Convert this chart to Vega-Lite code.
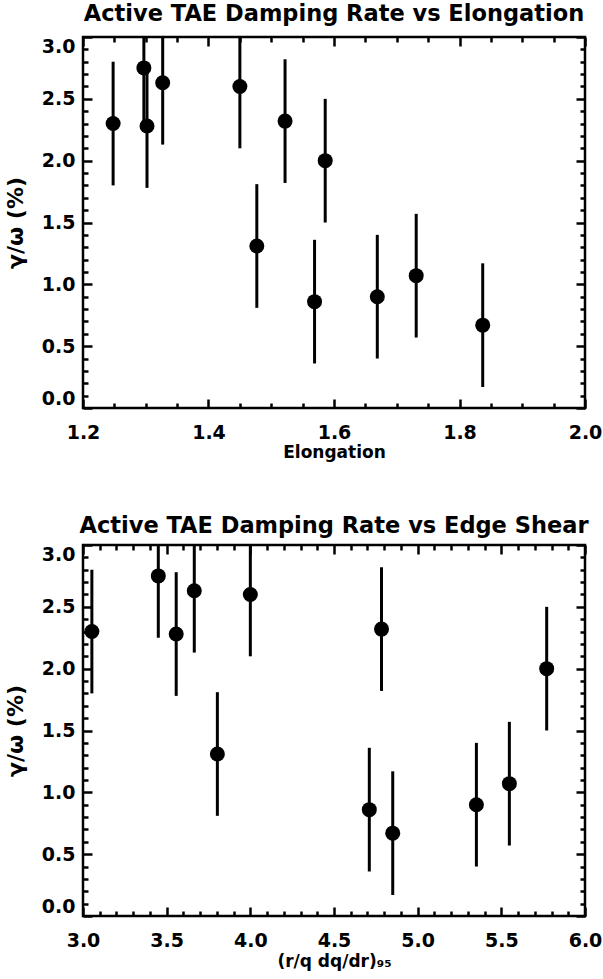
{
  "$schema": "https://vega.github.io/schema/vega-lite/v6.json",
  "background": "white",
  "padding": {"left": 3, "top": 2, "right": 0, "bottom": 0},
  "config": {
    "view": {"stroke": "black", "strokeWidth": 2.5},
    "font": "DejaVu Sans",
    "axis": {
      "domain": false,
      "grid": false,
      "labelFont": "DejaVu Sans",
      "labelFontWeight": "bold",
      "labelFontSize": 19,
      "labelColor": "black",
      "titleFont": "DejaVu Sans",
      "titleFontWeight": "bold",
      "titleColor": "black",
      "tickColor": "black",
      "tickWidth": 2.5
    },
    "title": {"font": "DejaVu Sans", "fontWeight": "bold", "fontSize": 22.5, "color": "black", "baseline": "alphabetic"}
  },
  "datasets": {
    "elong": [
      {"x": 1.248, "y": 2.30, "lo": 1.80, "hi": 2.80},
      {"x": 1.297, "y": 2.75, "lo": 2.25, "hi": 3.25},
      {"x": 1.302, "y": 2.28, "lo": 1.78, "hi": 2.78},
      {"x": 1.327, "y": 2.63, "lo": 2.13, "hi": 3.13},
      {"x": 1.450, "y": 2.60, "lo": 2.10, "hi": 3.10},
      {"x": 1.477, "y": 1.31, "lo": 0.81, "hi": 1.81},
      {"x": 1.522, "y": 2.32, "lo": 1.82, "hi": 2.82},
      {"x": 1.586, "y": 2.00, "lo": 1.50, "hi": 2.50},
      {"x": 1.569, "y": 0.86, "lo": 0.36, "hi": 1.36},
      {"x": 1.669, "y": 0.90, "lo": 0.40, "hi": 1.40},
      {"x": 1.731, "y": 1.07, "lo": 0.57, "hi": 1.57},
      {"x": 1.837, "y": 0.67, "lo": 0.17, "hi": 1.17}
    ],
    "shear": [
      {"x": 3.053, "y": 2.30, "lo": 1.80, "hi": 2.80},
      {"x": 3.450, "y": 2.75, "lo": 2.25, "hi": 3.25},
      {"x": 3.557, "y": 2.28, "lo": 1.78, "hi": 2.78},
      {"x": 3.665, "y": 2.63, "lo": 2.13, "hi": 3.13},
      {"x": 3.803, "y": 1.31, "lo": 0.81, "hi": 1.81},
      {"x": 4.000, "y": 2.60, "lo": 2.10, "hi": 3.10},
      {"x": 4.711, "y": 0.86, "lo": 0.36, "hi": 1.36},
      {"x": 4.784, "y": 2.32, "lo": 1.82, "hi": 2.82},
      {"x": 4.851, "y": 0.67, "lo": 0.17, "hi": 1.17},
      {"x": 5.351, "y": 0.90, "lo": 0.40, "hi": 1.40},
      {"x": 5.548, "y": 1.07, "lo": 0.57, "hi": 1.57},
      {"x": 5.771, "y": 2.00, "lo": 1.50, "hi": 2.50}
    ]
  },
  "spacing": 52,
  "vconcat": [
    {
      "width": 502,
      "height": 371,
      "title": {"text": "Active TAE Damping Rate vs Elongation", "offset": 10},
      "data": {"name": "elong"},
      "resolve": {"axis": {"x": "independent", "y": "independent"}},
      "layer": [
        {
          "mark": {"type": "rule", "color": "black", "strokeWidth": 3, "clip": true},
          "encoding": {
            "x": {"field": "x", "type": "quantitative",
              "scale": {"domain": [1.2, 2.0], "nice": false, "zero": false},
              "axis": {"orient": "bottom", "title": "Elongation", "titleFontSize": 17, "titlePadding": 2,
                "values": [1.2,1.25,1.3,1.35,1.4,1.45,1.5,1.55,1.6,1.65,1.7,1.75,1.8,1.85,1.9,1.95,2.0],
                "tickSize": {"condition": {"test": "abs(datum.value*5 - round(datum.value*5)) < 0.001", "value": -9}, "value": -5},
                "labelPadding": 24, "labelFlush": false,
                "labelExpr": "abs(datum.value*5 - round(datum.value*5)) < 0.001 ? format(datum.value, '.1f') : ''"}},
            "y": {"field": "lo", "type": "quantitative",
              "scale": {"domain": [0, 3], "nice": false, "zero": false},
              "axis": {"orient": "left", "title": "γ/ω (%)", "titleFontSize": 22, "titlePadding": 14,
                "values": [0,0.1,0.2,0.3,0.4,0.5,0.6,0.7,0.8,0.9,1.0,1.1,1.2,1.3,1.4,1.5,1.6,1.7,1.8,1.9,2.0,2.1,2.2,2.3,2.4,2.5,2.6,2.7,2.8,2.9,3.0],
                "tickSize": {"condition": {"test": "abs(datum.value*2 - round(datum.value*2)) < 0.001", "value": -9}, "value": -5},
                "labelPadding": 17, "labelFlush": true,
                "labelExpr": "abs(datum.value*2 - round(datum.value*2)) < 0.001 ? format(datum.value, '.1f') : ''"}},
            "y2": {"field": "hi"}
          }
        },
        {
          "mark": {"type": "point", "filled": true, "color": "black", "opacity": 1, "size": 225, "shape": "circle"},
          "encoding": {
            "x": {"field": "x", "type": "quantitative",
              "axis": {"orient": "top", "title": null, "labels": false,
                "values": [1.2,1.25,1.3,1.35,1.4,1.45,1.5,1.55,1.6,1.65,1.7,1.75,1.8,1.85,1.9,1.95,2.0],
                "tickSize": {"condition": {"test": "abs(datum.value*5 - round(datum.value*5)) < 0.001", "value": -9}, "value": -5}}},
            "y": {"field": "y", "type": "quantitative",
              "axis": {"orient": "right", "title": null, "labels": false,
                "values": [0,0.1,0.2,0.3,0.4,0.5,0.6,0.7,0.8,0.9,1.0,1.1,1.2,1.3,1.4,1.5,1.6,1.7,1.8,1.9,2.0,2.1,2.2,2.3,2.4,2.5,2.6,2.7,2.8,2.9,3.0],
                "tickSize": {"condition": {"test": "abs(datum.value*2 - round(datum.value*2)) < 0.001", "value": -9}, "value": -5}}}
          }
        }
      ]
    },
    {
      "width": 502,
      "height": 371,
      "title": {"text": "Active TAE Damping Rate vs Edge Shear", "offset": 6},
      "data": {"name": "shear"},
      "resolve": {"axis": {"x": "independent", "y": "independent"}},
      "layer": [
        {
          "mark": {"type": "rule", "color": "black", "strokeWidth": 3, "clip": true},
          "encoding": {
            "x": {"field": "x", "type": "quantitative",
              "scale": {"domain": [3, 6], "nice": false, "zero": false},
              "axis": {"orient": "bottom", "title": "(r/q dq/dr)₉₅", "titleFontSize": 17, "titlePadding": 3,
                "values": [3.0,3.1,3.2,3.3,3.4,3.5,3.6,3.7,3.8,3.9,4.0,4.1,4.2,4.3,4.4,4.5,4.6,4.7,4.8,4.9,5.0,5.1,5.2,5.3,5.4,5.5,5.6,5.7,5.8,5.9,6.0],
                "tickSize": {"condition": {"test": "abs(datum.value*2 - round(datum.value*2)) < 0.001", "value": -9}, "value": -5},
                "labelPadding": 24, "labelFlush": false,
                "labelExpr": "abs(datum.value*2 - round(datum.value*2)) < 0.001 ? format(datum.value, '.1f') : ''"}},
            "y": {"field": "lo", "type": "quantitative",
              "scale": {"domain": [0, 3], "nice": false, "zero": false},
              "axis": {"orient": "left", "title": "γ/ω (%)", "titleFontSize": 22, "titlePadding": 14,
                "values": [0,0.1,0.2,0.3,0.4,0.5,0.6,0.7,0.8,0.9,1.0,1.1,1.2,1.3,1.4,1.5,1.6,1.7,1.8,1.9,2.0,2.1,2.2,2.3,2.4,2.5,2.6,2.7,2.8,2.9,3.0],
                "tickSize": {"condition": {"test": "abs(datum.value*2 - round(datum.value*2)) < 0.001", "value": -9}, "value": -5},
                "labelPadding": 17, "labelFlush": true,
                "labelExpr": "abs(datum.value*2 - round(datum.value*2)) < 0.001 ? format(datum.value, '.1f') : ''"}},
            "y2": {"field": "hi"}
          }
        },
        {
          "mark": {"type": "point", "filled": true, "color": "black", "opacity": 1, "size": 225, "shape": "circle"},
          "encoding": {
            "x": {"field": "x", "type": "quantitative",
              "axis": {"orient": "top", "title": null, "labels": false,
                "values": [3.0,3.1,3.2,3.3,3.4,3.5,3.6,3.7,3.8,3.9,4.0,4.1,4.2,4.3,4.4,4.5,4.6,4.7,4.8,4.9,5.0,5.1,5.2,5.3,5.4,5.5,5.6,5.7,5.8,5.9,6.0],
                "tickSize": {"condition": {"test": "abs(datum.value*2 - round(datum.value*2)) < 0.001", "value": -9}, "value": -5}}},
            "y": {"field": "y", "type": "quantitative",
              "axis": {"orient": "right", "title": null, "labels": false,
                "values": [0,0.1,0.2,0.3,0.4,0.5,0.6,0.7,0.8,0.9,1.0,1.1,1.2,1.3,1.4,1.5,1.6,1.7,1.8,1.9,2.0,2.1,2.2,2.3,2.4,2.5,2.6,2.7,2.8,2.9,3.0],
                "tickSize": {"condition": {"test": "abs(datum.value*2 - round(datum.value*2)) < 0.001", "value": -9}, "value": -5}}}
          }
        }
      ]
    }
  ]
}
